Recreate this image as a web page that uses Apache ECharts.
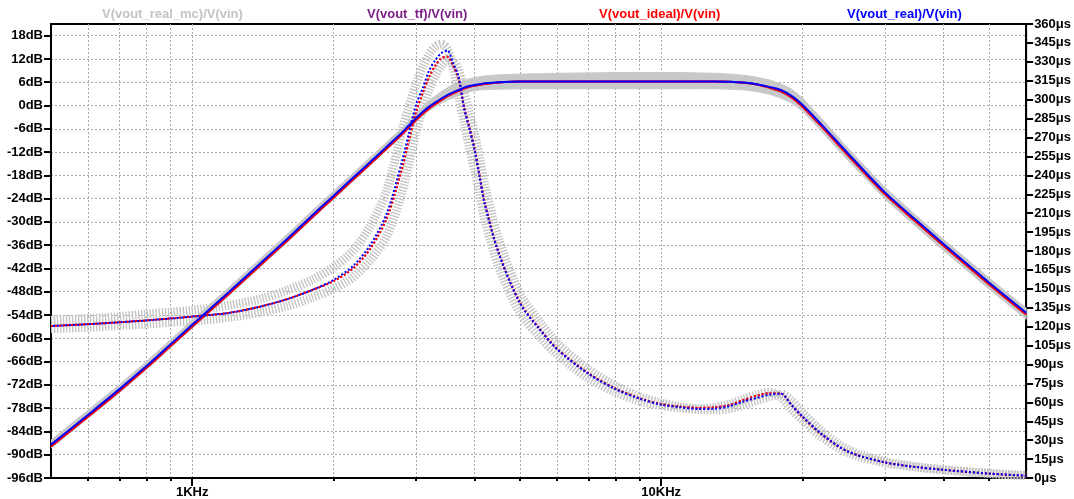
<!DOCTYPE html>
<html>
<head>
<meta charset="utf-8">
<script src="https://cdn.jsdelivr.net/npm/echarts@6/dist/echarts.min.js"></script>
<style>
  html, body { margin: 0; padding: 0; background: #ffffff; }
  #chart { width: 1074px; height: 499px; }
</style>
</head>
<body>
<div id="chart"></div>
<script>
// Frequency points (Hz) shared by every trace
const freqs = [500, 600, 700, 800, 900, 1000, 1200, 1400, 1600, 1800, 2000, 2200, 2400, 2600, 2800, 2900,
  3000, 3100, 3200, 3300, 3400, 3500, 3600, 3700, 3800, 3900, 4000, 4100, 4200, 4500, 5000, 5500, 6000,
  7000, 8000, 9000, 10000, 11000, 12000, 13000, 14000, 15000, 16000, 17000, 18000, 19000, 20000, 22000,
  25000, 30000, 35000, 40000, 50000, 60000];

// Magnitude, dB
const magReal = [-87.4, -79.7, -73.1, -67.1, -61.5, -56.5, -48.0, -40.6, -34.2, -28.4, -23.3, -18.7, -14.5, -10.6, -7.0, -5.1,
  -3.3, -1.7, -0.3, 0.8, 1.8, 2.7, 3.4, 4.0, 4.6, 5.0, 5.3, 5.5, 5.7, 6.0, 6.2, 6.2, 6.2,
  6.2, 6.2, 6.2, 6.2, 6.2, 6.2, 6.2, 6.1, 5.9, 5.5, 4.8, 4.0, 2.4, 0.2, -5.0,
  -12.3, -22.4, -29.6, -35.7, -45.6, -53.4];
const magIdeal = [-87.85, -80.15, -73.55, -67.55, -61.95, -56.95, -48.45, -41.05, -34.65, -28.85, -23.75, -19.15, -14.95, -11.05, -7.45, -5.55,
  -3.75, -2.15, -0.75, 0.4, 1.45, 2.4, 3.1, 3.75, 4.35, 4.8, 5.1, 5.35, 5.55, 5.95, 6.2, 6.2, 6.2,
  6.2, 6.2, 6.2, 6.2, 6.2, 6.2, 6.2, 6.1, 5.85, 5.4, 4.6, 3.65, 2.0, -0.25, -5.45,
  -12.75, -22.85, -30.05, -36.15, -46.05, -53.85];
const magTf = magIdeal.slice();
// Monte Carlo spread of the real circuit's magnitude (upper / lower envelope)
const magMcHi = [-86.2, -78.5, -71.9, -65.9, -60.3, -55.3, -46.8, -39.4, -33.0, -27.2, -22.1, -17.5, -13.3, -9.4, -5.8, -3.9,
  -2.0, -0.3, 1.2, 2.5, 3.6, 4.6, 5.4, 6.0, 6.5, 6.9, 7.2, 7.4, 7.6, 7.9, 8.1, 8.2, 8.3,
  8.4, 8.5, 8.5, 8.5, 8.5, 8.4, 8.3, 8.1, 7.8, 7.3, 6.6, 5.6, 4.2, 2.0, -3.4,
  -11.0, -21.1, -28.4, -34.5, -44.4, -52.2];
const magMcLo = [-88.3, -80.6, -74.0, -68.0, -62.4, -57.4, -48.9, -41.5, -35.1, -29.3, -24.2, -19.6, -15.4, -11.5, -7.9, -6.0,
  -4.3, -2.7, -1.3, -0.3, 0.6, 1.4, 2.0, 2.6, 3.1, 3.5, 3.8, 4.0, 4.1, 4.2, 4.3, 4.3, 4.3,
  4.3, 4.3, 4.3, 4.3, 4.3, 4.3, 4.3, 4.2, 4.0, 3.6, 2.9, 1.9, 0.6, -1.4, -6.7,
  -14.1, -24.1, -31.3, -37.4, -47.3, -55.1];

// Group delay, µs
const gdReal = [120.5, 122, 123.5, 125, 126.5, 128, 131, 136, 142, 149, 157, 168, 185, 210, 251, 274,
  296, 309, 323, 331.5, 337, 339, 329, 318, 293, 277, 260, 239, 218, 178.5, 138.5, 118, 102,
  82.5, 70.4, 62.8, 58.1, 56, 54.7, 54.9, 57, 60.7, 63.5, 66, 66.8, 57.5, 49, 34.8,
  21, 12.4, 8.7, 6.5, 3.5, 1.8];
const gdIdeal = [120.5, 122, 123.5, 125, 126.5, 128, 131, 136, 142, 149, 156, 166, 182, 206, 245, 268,
  290, 305, 318, 327, 333, 334, 327, 316, 294, 278, 261, 240, 219, 179, 139, 118.5, 102.5,
  83, 70.8, 63.2, 58.6, 56.6, 55.6, 56, 58, 62, 65.2, 67.3, 67, 57.5, 48.5, 34.5,
  21, 12.4, 8.7, 6.5, 3.5, 1.8];
const gdTf = gdIdeal.slice();
// Two Monte Carlo runs of the real circuit's group delay
const gdMcA = [125, 126.5, 128, 130, 131.5, 133, 137, 142, 149, 157, 167, 180, 200, 228, 275, 295,
  312, 326, 336, 342, 344, 340, 326, 303, 282, 262, 244, 226, 206, 168, 131, 112, 98,
  79, 68, 61, 57.5, 55.5, 55, 56, 58.5, 62.5, 66, 68, 64, 54, 46, 32.5,
  20, 12, 8.6, 6.4, 3.6, 1.9];
const gdMcB = [118.5, 119.5, 121, 122, 123.5, 124.5, 127.5, 131.5, 136.5, 143, 150, 159, 173, 192, 226, 250,
  274, 293, 308, 319, 327, 331, 330, 323, 306, 290, 273, 254, 233, 190, 146, 124, 107,
  86, 73, 64.5, 59.5, 56.5, 54.5, 54, 55, 58, 61.5, 64.5, 66.5, 61, 52, 37,
  22.5, 13, 9, 6.6, 3.7, 1.9];

// Axis ticks
const dbTicks = [-96, -90, -84, -78, -72, -66, -60, -54, -48, -42, -36, -30, -24, -18, -12, -6, 0, 6, 12, 18];
const freqGridTicks = [600, 700, 800, 900, 1000, 2000, 3000, 4000, 5000, 6000, 7000, 8000, 9000,
  10000, 20000, 30000, 40000, 50000];
const freqLabelTicks = [1000, 10000];

// Trace names and colours
const traceNames = ['V(vout_real_mc)/V(vin)', 'V(vout_tf)/V(vin)', 'V(vout_ideal)/V(vin)', 'V(vout_real)/V(vin)'];
const traceColors = ['#c3c3c3', '#7d1f86', '#ff0000', '#0000ff'];
const legendLeft = [97, 362, 594, 842];

const FONT = 'Liberation Sans, Arial, sans-serif';
const pairs = ys => freqs.map((f, i) => [f, ys[i]]);

const chart = echarts.init(document.getElementById('chart'), null, { renderer: 'canvas' });

const gridLine = { show: true, lineStyle: { color: '#a9a9a9', width: 1, type: [2, 2] } };
const axisText = { color: '#000', fontFamily: FONT, fontSize: 13, fontWeight: 'bold' };

// Filled band between the Monte Carlo upper and lower magnitude envelopes
function renderMagBand(params, api) {
  const upper = freqs.map((f, i) => api.coord([f, magMcHi[i]]));
  const lower = freqs.map((f, i) => api.coord([f, magMcLo[i]])).reverse();
  return {
    type: 'polygon',
    shape: { points: upper.concat(lower) },
    style: { fill: '#c8c8c8', stroke: '#cbcbcb', lineWidth: 1 }
  };
}

const series = [
  {
    name: traceNames[0], type: 'custom', xAxisIndex: 0, yAxisIndex: 0, clip: true,
    data: [[freqs[0], magMcLo[0]]], renderItem: renderMagBand, silent: true
  },
  // Monte Carlo group delay runs (hatched)
  {
    name: traceNames[0], type: 'line', yAxisIndex: 1, data: pairs(gdMcA), symbol: 'none', smooth: 0.3,
    lineStyle: { color: '#c4c4c4', width: 9, type: [1.4, 1.6], cap: 'butt' }
  },
  {
    name: traceNames[0], type: 'line', yAxisIndex: 1, data: pairs(gdMcB), symbol: 'none', smooth: 0.3,
    lineStyle: { color: '#c4c4c4', width: 9, type: [1.4, 1.6], cap: 'butt' }
  },
  // Transfer-function model
  {
    name: traceNames[1], type: 'line', yAxisIndex: 0, data: pairs(magTf), symbol: 'none', smooth: 0.3,
    lineStyle: { color: traceColors[1], width: 2 }
  },
  {
    name: traceNames[1], type: 'line', yAxisIndex: 1, data: pairs(gdTf), symbol: 'none', smooth: 0.3,
    lineStyle: { color: traceColors[1], width: 2, type: [2, 2] }
  },
  // Ideal circuit
  {
    name: traceNames[2], type: 'line', yAxisIndex: 0, data: pairs(magIdeal), symbol: 'none', smooth: 0.3,
    lineStyle: { color: traceColors[2], width: 2 }
  },
  {
    name: traceNames[2], type: 'line', yAxisIndex: 1, data: pairs(gdIdeal), symbol: 'none', smooth: 0.3,
    lineStyle: { color: traceColors[2], width: 2, type: [2, 2] }
  },
  // Real circuit
  {
    name: traceNames[3], type: 'line', yAxisIndex: 0, data: pairs(magReal), symbol: 'none', smooth: 0.3,
    lineStyle: { color: traceColors[3], width: 2 }
  },
  {
    name: traceNames[3], type: 'line', yAxisIndex: 1, data: pairs(gdReal), symbol: 'none', smooth: 0.3,
    lineStyle: { color: traceColors[3], width: 2, type: [2, 2], dashOffset: 2 }
  }
];

chart.setOption({
  animation: false,
  backgroundColor: '#ffffff',
  grid: { left: 51, right: 47, top: 24, bottom: 20, show: true, borderColor: '#000', borderWidth: 2, backgroundColor: 'transparent' },
  legend: traceNames.map((n, i) => ({
    data: [{ name: n, textStyle: { color: traceColors[i] } }],
    left: legendLeft[i], top: 8, padding: 0, itemWidth: 0, itemHeight: 0, icon: 'rect',
    selectedMode: false,
    textStyle: { fontFamily: FONT, fontSize: 13, fontWeight: 'bold' }
  })),
  xAxis: [
    {
      type: 'log', logBase: 10, min: 500, max: 60000, position: 'bottom',
      axisLine: { show: true, onZero: false, lineStyle: { color: '#000', width: 2 } },
      axisTick: { show: true, length: 3, customValues: freqGridTicks, lineStyle: { color: '#000', width: 2 } },
      axisLabel: { show: false },
      splitLine: gridLine
    },
    {
      type: 'log', logBase: 10, min: 500, max: 60000, position: 'bottom',
      axisLine: { show: false, onZero: false },
      axisTick: { show: true, length: 8, customValues: freqLabelTicks, lineStyle: { color: '#000', width: 2 } },
      axisLabel: Object.assign({ customValues: freqLabelTicks, margin: 8, formatter: v => (v / 1000) + 'KHz' }, axisText),
      splitLine: { show: false }
    }
  ],
  yAxis: [
    {
      type: 'value', min: -96, max: 21, position: 'left',
      axisLine: { show: true, onZero: false, lineStyle: { color: '#000', width: 2 } },
      axisTick: { show: true, length: 7, inside: false, customValues: dbTicks, lineStyle: { color: '#000', width: 2 } },
      axisLabel: Object.assign({ customValues: dbTicks, margin: 8, formatter: '{value}dB' }, axisText),
      splitLine: gridLine
    },
    {
      type: 'value', min: 0, max: 360, interval: 15, position: 'right',
      axisLine: { show: true, onZero: false, lineStyle: { color: '#000', width: 2 } },
      axisTick: { show: true, length: 7, lineStyle: { color: '#000', width: 2 } },
      axisLabel: Object.assign({ margin: 8, formatter: '{value}μs' }, axisText),
      splitLine: { show: false }
    }
  ],
  series: series
});
</script>
</body>
</html>
